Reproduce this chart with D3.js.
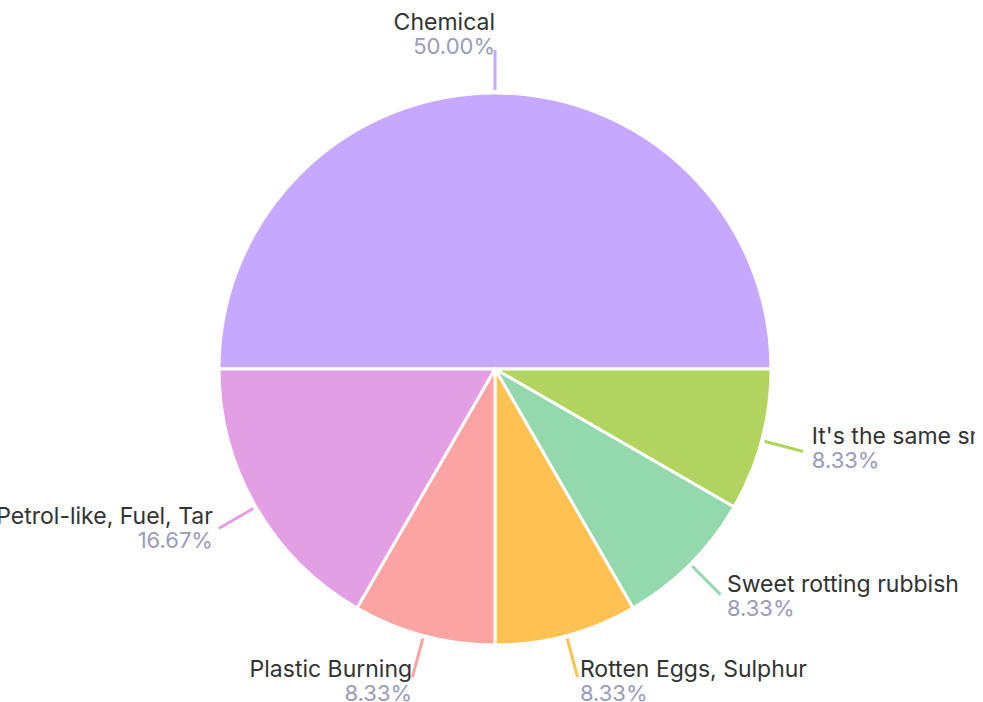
<!DOCTYPE html>
<html>
<head>
<meta charset="utf-8">
<script src="https://cdn.jsdelivr.net/npm/d3@7"></script>
<style>
  html, body { margin: 0; padding: 0; background: #fff; }
  svg { display: block; overflow: hidden; }
</style>
</head>
<body>
<div id="chart"></div>
<script>
const categories = [
  'Chemical',
  "It's the same smell",
  'Sweet rotting rubbish',
  'Rotten Eggs, Sulphur',
  'Plastic Burning',
  'Petrol-like, Fuel, Tar'
];
const values = [6, 1, 1, 1, 1, 2];
const colors = ['#c7a8ff', '#b1d45f', '#94d9ad', '#ffc152', '#fca3a3', '#e29fe3'];

const WIDTH = 975;
const HEIGHT = 702;
const CX = 495, CY = 369;
const RADIUS = 276;
const FONT = 'Inter, sans-serif';

const total = d3.sum(values);
const data = categories.map((c, i) => ({ name: c, value: values[i], color: colors[i] }));

const svg = d3.select('#chart')
  .append('svg')
  .attr('width', WIDTH)
  .attr('height', HEIGHT);

const g = svg.append('g')
  .attr('transform', `translate(${CX},${CY})`);

// start at 9 o'clock, go clockwise
const pie = d3.pie()
  .sort(null)
  .value(d => d.value)
  .startAngle(-Math.PI / 2)
  .endAngle(Math.PI * 1.5);

const arcs = pie(data);

const arc = d3.arc().innerRadius(0).outerRadius(RADIUS);

g.selectAll('path.slice')
  .data(arcs)
  .join('path')
  .attr('class', 'slice')
  .attr('d', arc)
  .attr('fill', d => d.data.color)
  .attr('stroke', '#fff')
  .attr('stroke-width', 3)
  .attr('stroke-linejoin', 'round');

// leader lines
const lineStart = d3.arc().innerRadius(RADIUS + 3).outerRadius(RADIUS + 3);
const lineEnd = d3.arc().innerRadius(RADIUS + 43).outerRadius(RADIUS + 43);

arcs.forEach(d => {
  const mid = (d.startAngle + d.endAngle) / 2;
  const s = Math.sin(mid), c = Math.cos(mid);
  const p0 = lineStart.centroid(d);
  const p1 = lineEnd.centroid(d);

  g.append('line')
    .attr('x1', p0[0]).attr('y1', p0[1])
    .attr('x2', p1[0]).attr('y2', p1[1])
    .attr('stroke', d.data.color)
    .attr('stroke-width', 3);

  const anchor = s > 0.01 ? 'start' : 'end';
  const tx = p1[0] + 9 * s + (s < -0.01 ? 2 : 0);
  const ty = p1[1] - 10 - 10 * c;

  g.append('text')
    .attr('x', tx).attr('y', ty)
    .attr('text-anchor', anchor)
    .attr('font-family', FONT)
    .attr('font-size', '23px')
    .attr('fill', '#333')
    .text(d.data.name);

  g.append('text')
    .attr('x', tx).attr('y', ty + 24)
    .attr('text-anchor', anchor)
    .attr('font-family', FONT)
    .attr('font-size', '22px')
    .attr('fill', '#9b9bb8')
    .text(d3.format('.2%')(d.data.value / total));
});
</script>
</body>
</html>
